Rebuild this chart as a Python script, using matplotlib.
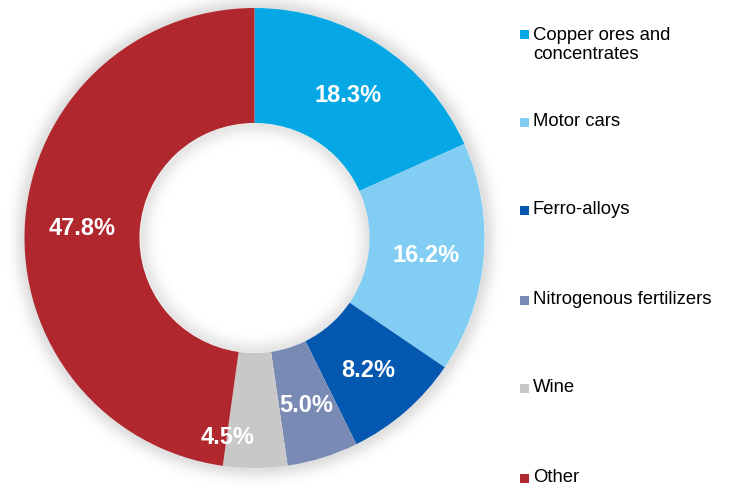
import numpy as np
import matplotlib
matplotlib.use("Agg")
import matplotlib.pyplot as plt
from matplotlib.patches import Rectangle

categories = ["Copper ores and\nconcentrates", "Motor cars", "Ferro-alloys",
              "Nitrogenous fertilizers", "Wine", "Other"]
shares = [18.3, 16.2, 8.2, 5.0, 4.5, 47.8]
labels = ["18.3%", "16.2%", "8.2%", "5.0%", "4.5%", "47.8%"]
colors = ["#05A8E4", "#82CDF3", "#0558B0", "#798BB5", "#C8C8C8", "#B0282D"]
# label placement tweaks (radius as fraction of outer radius, angle offset in degrees)
label_r = [0.75, 0.75, 0.75, 0.75, 0.865, 0.75]
label_dang = [0, 0, 0, 0, -8, 0]

W, H = 734, 488
fig = plt.figure(figsize=(W / 100, H / 100), dpi=100)
plt.rcParams['font.family'] = ['Liberation Sans', 'DejaVu Sans']

R_px = 230.0
cx, cy = 254.5, 488 - 238.0
half = 256.0
ax = fig.add_axes([(cx - half) / W, (cy - half) / H, 2 * half / W, 2 * half / H])
lim = half / R_px
ax.axis('off')

# soft shadow halo
n = 640
g = np.linspace(-lim, lim, n)
X, Y = np.meshgrid(g, g)
r = np.hypot(X, Y)
sig = 0.045
a = np.zeros_like(r)
out = r > 1.0
a[out] = 0.25 * np.exp(-((r[out] - 1.0) / sig) ** 2)
inn = r < 0.5
a[inn] = 0.2 * np.exp(-((0.5 - r[inn]) / sig) ** 2)
img = np.zeros((n, n, 4))
img[..., :3] = 0.5
img[..., 3] = a
ax.imshow(img, extent=(-lim, lim, -lim, lim), origin='lower', zorder=0,
          interpolation='bilinear')

wedges, _ = ax.pie(shares, colors=colors, startangle=90, counterclock=False,
                   radius=1.0, wedgeprops=dict(width=0.5, edgecolor='none'))
for w in wedges:
    w.set_zorder(2)

ax.set_xlim(-lim, lim)
ax.set_ylim(-lim, lim)
ax.set_aspect('equal')
ax.set_position([(cx - half) / W, (cy - half) / H, 2 * half / W, 2 * half / H])

for w, lab, rr, da in zip(wedges, labels, label_r, label_dang):
    ang = np.deg2rad((w.theta1 + w.theta2) / 2 + da)
    ax.text(rr * np.cos(ang), rr * np.sin(ang) - 0.012, lab, ha='center', va='center',
            color='white', fontsize=17, fontweight='bold', zorder=3)

# legend
row_y = [34, 122, 210, 300, 388, 478]
for cat, col, y in zip(categories, colors, row_y):
    fig.patches.append(Rectangle(((520) / W, (H - y - 4.5) / H), 9 / W, 9 / H,
                                 transform=fig.transFigure, facecolor=col,
                                 edgecolor='none'))
    nlines = cat.count("\n") + 1
    ty = y + (nlines - 1) * 11
    fig.text(533 / W, (H - ty) / H, cat, ha='left', va='center', fontsize=13.3,
             color='#000000', linespacing=1.2)

fig.savefig("out.png", dpi=100, facecolor='white')
